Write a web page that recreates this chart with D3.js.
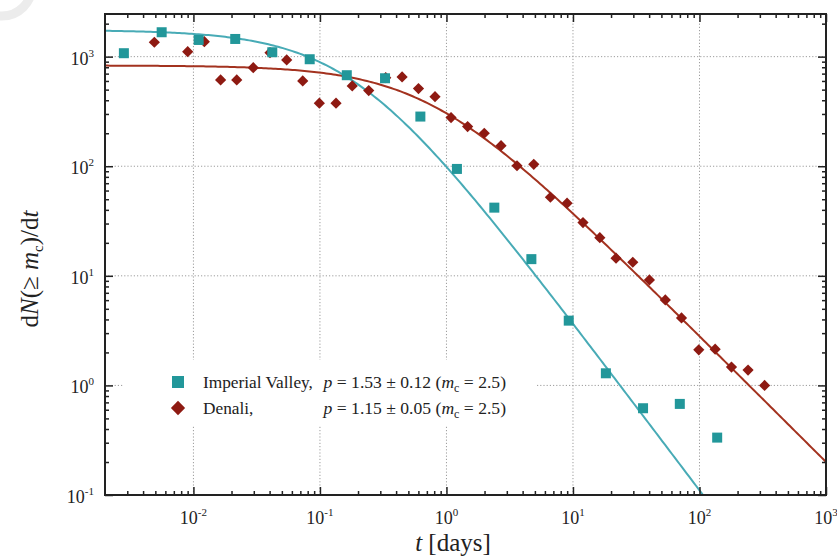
<!DOCTYPE html>
<html><head><meta charset="utf-8">
<script src="https://cdn.jsdelivr.net/npm/d3@7"></script>
<style>body{margin:0;background:#fff}svg{display:block}</style>
</head><body><svg id="c" width="837" height="560"></svg>
<script>
// ---- data ----
const ivT = [0.00282,0.00561,0.0110,0.0214,0.0420,0.0830,0.163,0.327,0.622,1.21,2.39,4.69,9.26,18.2,35.8,69.9,138];
const ivN = [1075,1670,1420,1450,1097,947,677,635,284,94.5,41.9,14.2,3.90,1.29,0.619,0.678,0.334];
const deT = [0.00491,0.00901,0.0122,0.0164,0.0220,0.0297,0.0403,0.0546,0.0731,0.0989,0.134,0.180,0.243,0.331,0.446,0.601,0.812,1.087,1.47,1.99,2.70,3.61,4.90,6.63,8.98,12.0,16.3,21.9,29.7,40.2,53.7,72.1,98.7,133,179,242,327];
const deN = [1353,1111,1371,613,613,794,1088,933,600,376,376,540,490,643,653,511,431,278,230,200,154,101,104,52.1,46.0,30.6,22.3,14.5,13.3,9.18,6.03,4.13,2.11,2.14,1.47,1.38,1.00];
// Omori fits K/(c+t)^p
const ivFit = {K:127, c:0.18, p:1.53};
const deFit = {K:565, c:0.715, p:1.15};
const xTickExps = [-2,-1,0,1,2,3];
const yTickExps = [-1,0,1,2,3];
const legendNames = ["Imperial Valley,", "Denali,"];
const legendP = ["1.53 ± 0.12", "1.15 ± 0.05"];
const legendMc = "2.5";

// ---- drawing ----
const svg = d3.select("#c");
const L=105, R=826, T=14, B=495;
const x = d3.scaleLog().domain([0.002,1000]).range([L,R]);
const y = d3.scaleLog().domain([0.1,2450]).range([B,T]);
const teal = "#22979a", tealLine = "#48abb6", red = "#8e1a12", redLine = "#a3321f";
const font = "'Liberation Serif','Times New Roman',serif";

// faint watermark arc at the top-left corner
svg.append("circle").attr("cx",2).attr("cy",-14).attr("r",30)
  .attr("fill","none").attr("stroke","#ececec").attr("stroke-width",9);

svg.append("defs").append("clipPath").attr("id","pc")
  .append("rect").attr("x",L).attr("y",T).attr("width",R-L).attr("height",B-T);

const minors = (lo, hi) => {
  const out=[];
  for (let e=Math.floor(Math.log10(lo)); e<=Math.ceil(Math.log10(hi)); e++)
    for (let m=2;m<=9;m++){ const v=m*Math.pow(10,e); if (v>lo && v<hi) out.push(v); }
  return out;
};
const xMaj = xTickExps.map(e=>Math.pow(10,e));
const yMaj = yTickExps.map(e=>Math.pow(10,e));
const xMin = minors(0.002,1000), yMin = minors(0.1,2450);

// grid
const grid = svg.append("g").attr("stroke","#9c9c9c").attr("stroke-width",1).attr("stroke-dasharray","1.2,2");
grid.selectAll("line.gx").data(xMaj.filter(v=>v>0.002&&v<1000)).join("line")
  .attr("x1",d=>x(d)).attr("x2",d=>x(d)).attr("y1",T).attr("y2",B);
grid.selectAll("line.gy").data(yMaj.filter(v=>v>0.1&&v<2450)).join("line")
  .attr("y1",d=>y(d)).attr("y2",d=>y(d)).attr("x1",L).attr("x2",R);

// legend background (hides grid)
svg.append("rect").attr("x",123).attr("y",360).attr("width",412).attr("height",65).attr("fill","#fff");

// fit curves
const tGrid = d3.range(0,301).map(i=>Math.pow(10, Math.log10(0.002)+i*(Math.log10(1000)-Math.log10(0.002))/300));
const omori = f => t => f.K/Math.pow(f.c+t,f.p);
const line = fn => d3.line().x(t=>x(t)).y(t=>y(Math.max(fn(t),0.02)));
const gp = svg.append("g").attr("clip-path","url(#pc)");
gp.append("path").attr("d",line(omori(deFit))(tGrid)).attr("fill","none").attr("stroke",redLine).attr("stroke-width",2);
gp.append("path").attr("d",line(omori(ivFit))(tGrid)).attr("fill","none").attr("stroke",tealLine).attr("stroke-width",2);

// points
const diamond = d3.symbol().type(d3.symbolDiamond2).size(80);
gp.selectAll("path.de").data(deT.map((t,i)=>[t,deN[i]])).join("path")
  .attr("d",diamond).attr("transform",d=>`translate(${x(d[0])},${y(d[1])})`).attr("fill",red);
gp.selectAll("rect.iv").data(ivT.map((t,i)=>[t,ivN[i]])).join("rect")
  .attr("x",d=>x(d[0])-5).attr("y",d=>y(d[1])-5).attr("width",10).attr("height",10).attr("fill",teal);

// axes (inward ticks)
const ax = (gen, tr, vals, size) => svg.append("g").attr("transform",tr)
  .call(gen.tickValues(vals).tickSize(size).tickSizeOuter(0).tickFormat(""))
  .call(g=>{g.select(".domain").remove(); g.selectAll("line").attr("stroke","#222").attr("stroke-width",1.5);});
ax(d3.axisBottom(x),`translate(0,${B})`,xMaj,-8); ax(d3.axisBottom(x),`translate(0,${B})`,xMin,-4);
ax(d3.axisTop(x),`translate(0,${T})`,xMaj,-8); ax(d3.axisTop(x),`translate(0,${T})`,xMin,-4);
ax(d3.axisLeft(y),`translate(${L},0)`,yMaj,-8); ax(d3.axisLeft(y),`translate(${L},0)`,yMin,-4);
ax(d3.axisRight(y),`translate(${R},0)`,yMaj,-8); ax(d3.axisRight(y),`translate(${R},0)`,yMin,-4);
svg.append("rect").attr("x",L).attr("y",T).attr("width",R-L).attr("height",B-T)
  .attr("fill","none").attr("stroke","#222").attr("stroke-width",2);

// tick labels
const pow = (t,e) => { t.append("tspan").text("10"); t.append("tspan").attr("dy",-8).attr("font-size",11).text(e); };
xTickExps.forEach(e=>{
  const t = svg.append("text").attr("x",x(Math.pow(10,e))).attr("y",524).attr("text-anchor","middle")
    .attr("font-family",font).attr("font-size",18).attr("fill","#222");
  pow(t, e<0? "-"+(-e) : String(e));
});
yTickExps.forEach(e=>{
  const t = svg.append("text").attr("x",94).attr("y",y(Math.pow(10,e))+8).attr("text-anchor","end")
    .attr("font-family",font).attr("font-size",18).attr("fill","#222");
  pow(t, e<0? "-"+(-e) : String(e));
});

// axis titles
const yt = svg.append("text").attr("transform","translate(38,269) rotate(-90)").attr("text-anchor","middle")
  .attr("font-family",font).attr("font-size",25).attr("fill","#222");
yt.append("tspan").text("d");
yt.append("tspan").attr("font-style","italic").text("N");
yt.append("tspan").text("(≥ ");
yt.append("tspan").attr("font-style","italic").text("m");
yt.append("tspan").attr("font-size",15).attr("dy",5).text("c");
yt.append("tspan").attr("dy",-5).text(")/d");
yt.append("tspan").attr("font-style","italic").text("t");

const xt = svg.append("text").attr("x",453).attr("y",551).attr("text-anchor","middle")
  .attr("font-family",font).attr("font-size",25).attr("fill","#222");
xt.append("tspan").attr("font-style","italic").text("t");
xt.append("tspan").text(" [days]");

// legend
const rows = [382, 408];
const legDiamond = d3.symbol().type(d3.symbolDiamond2).size(130);
svg.append("rect").attr("x",178-6).attr("y",rows[0]-6).attr("width",12).attr("height",12).attr("fill",teal);
svg.append("path").attr("d",legDiamond).attr("transform",`translate(178,${rows[1]})`).attr("fill",red);
legendNames.forEach((n,i)=>{
  svg.append("text").attr("x",203).attr("y",rows[i]+6).attr("font-family",font).attr("font-size",17.3).attr("fill","#222").text(n);
  const t = svg.append("text").attr("x",506).attr("y",rows[i]+6).attr("text-anchor","end")
    .attr("font-family",font).attr("font-size",17.6).attr("fill","#222");
  t.append("tspan").attr("font-style","italic").text("p");
  t.append("tspan").text(" = " + legendP[i] + " (");
  t.append("tspan").attr("font-style","italic").text("m");
  t.append("tspan").attr("font-size",12).attr("dy",4).text("c");
  t.append("tspan").attr("dy",-4).text(" = " + legendMc + ")");
});
</script></body></html>
